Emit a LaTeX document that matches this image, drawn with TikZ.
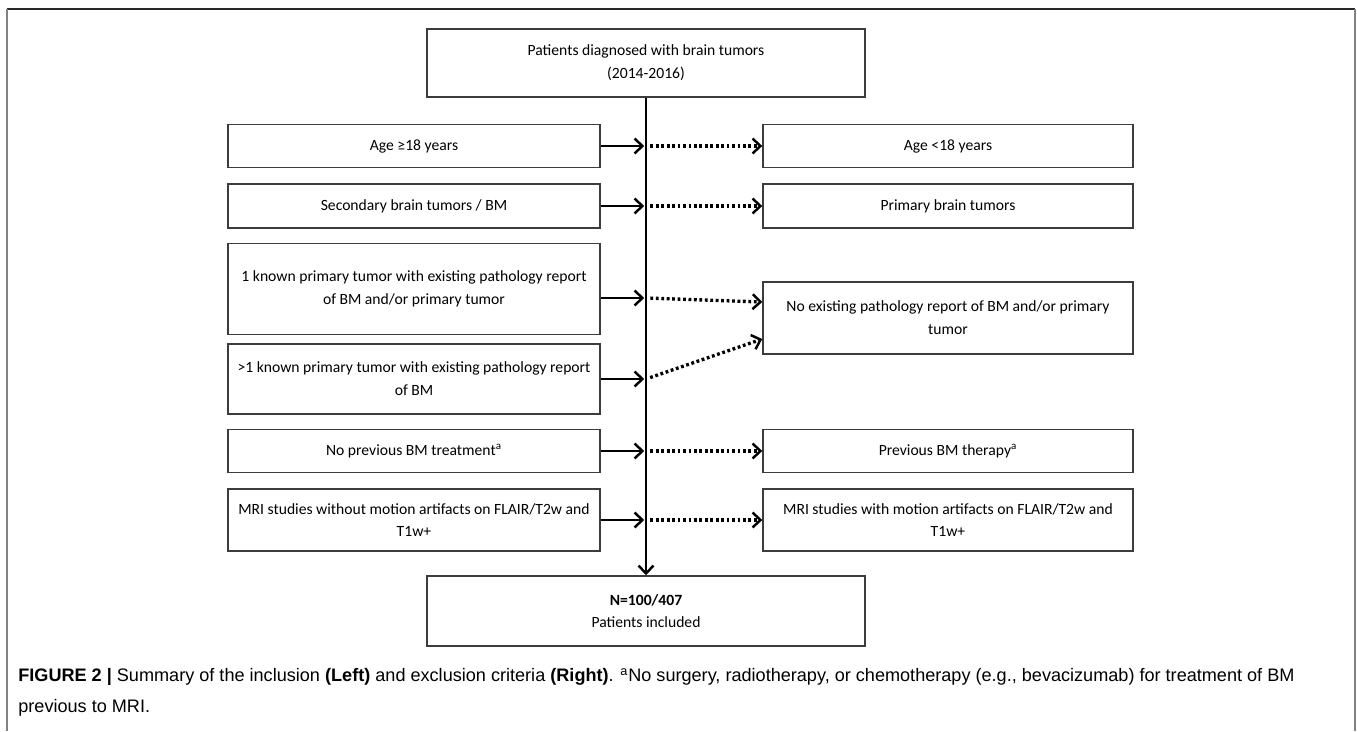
\documentclass[tikz,border=0pt]{standalone}
\usepackage{fontspec}
\setmainfont{Carlito}
\newfontfamily\capfont{Liberation Sans}
\usetikzlibrary{arrows.meta}
\definecolor{boxgray}{RGB}{60,60,60}
\definecolor{framegray}{RGB}{130,130,130}
\definecolor{framedark}{RGB}{40,40,40}

\begin{document}
\begin{tikzpicture}[x=0.02cm, y=-0.02cm,
  critbox/.style={draw=boxgray, line width=0.85pt, font=\fontsize{8.9}{13}\selectfont, align=center, inner sep=0pt},
  incbox/.style={critbox, minimum width=7.44cm},
  excbox/.style={critbox, minimum width=7.4cm},
  mainbox/.style={critbox, minimum width=8.76cm},
  inarrow/.style={-{Straight Barb[length=4.5pt,width=8.5pt]}, line width=1.4pt},
  outarrow/.style={-{Straight Barb[length=4.5pt,width=8.5pt,line width=1.4pt]}, line width=1.9pt, dash pattern=on 1.6pt off 1.5pt}]
\useasboundingbox (0,0) rectangle (1357,731);
% Frame
\draw[framedark, line width=1.1pt] (7,9) -- (1355,9);
\draw[framegray, line width=1.1pt] (7,9) -- (7,731);
\draw[framegray, line width=1.1pt] (1355,9) -- (1355,731);
% Start and end
\node[mainbox, minimum height=1.36cm] (pat) at (646,63) {Patients diagnosed with brain tumors\\(2014-2016)};
\node[mainbox, minimum height=1.4cm] (incl) at (646,611) {\textbf{N=100/407}\\Patients included};
% Inclusion criteria (left)
\node[incbox, minimum height=0.86cm] (inc1) at (414,146) {Age ≥18 years};
\node[incbox, minimum height=0.88cm] (inc2) at (414,206) {Secondary brain tumors / BM};
\node[incbox, minimum height=1.82cm] (inc3) at (414,289) {1 known primary tumor with existing pathology report\\of BM and/or primary tumor};
\node[incbox, minimum height=1.4cm] (inc4) at (414,379) {>1 known primary tumor with existing pathology report\\of BM};
\node[incbox, minimum height=0.86cm] (inc5) at (414,451) {No previous BM treatment\textsuperscript{a}};
\node[incbox, minimum height=1.24cm] (inc6) at (414,520) {MRI studies without motion artifacts on FLAIR/T2w and\\T1w+};
% Exclusion criteria (right)
\node[excbox, minimum height=0.86cm] (exc1) at (948,146) {Age <18 years};
\node[excbox, minimum height=0.88cm] (exc2) at (948,206) {Primary brain tumors};
\node[excbox, minimum height=1.44cm] (exc3) at (948,318) {No existing pathology report of BM and/or primary\\tumor};
\node[excbox, minimum height=0.86cm] (exc5) at (948,451) {Previous BM therapy\textsuperscript{a}};
\node[excbox, minimum height=1.24cm] (exc6) at (948,520) {MRI studies with motion artifacts on FLAIR/T2w and\\T1w+};
% Connections
\draw[inarrow] (pat) -- (incl);
\foreach \i in {1,2,5,6} {
  \draw[inarrow, shorten >=1pt] (inc\i.east) -- (inc\i.east -| pat.south);
  \draw[outarrow, shorten <=2.5pt] (inc\i.east -| pat.south) -- (exc\i.west);
}
\coordinate (s3) at ([yshift=-0.18cm]inc3.east -| pat.south);
\coordinate (s4) at (inc4.east -| pat.south);
\draw[inarrow, shorten >=1pt] ([yshift=-0.18cm]inc3.east) -- (s3);
\draw[inarrow, shorten >=1pt] (inc4.east) -- (s4);
\draw[outarrow, shorten <=2.5pt] (s3) -- ([yshift=0.32cm]exc3.west);
\draw[outarrow, shorten <=2.5pt] (s4) -- ([yshift=-0.42cm]exc3.west);
% Caption
\node[anchor=north west, align=left, inner sep=0pt, font=\capfont\fontsize{10.3}{17.6}\selectfont] (cap) at (18,668)
  {\textbf{FIGURE 2 |} Summary of the inclusion \textbf{(Left)} and exclusion criteria \textbf{(Right)}. \textsuperscript{a}No surgery, radiotherapy, or chemotherapy (e.g., bevacizumab) for treatment of BM\\previous to MRI.};
\end{tikzpicture}
\end{document}
